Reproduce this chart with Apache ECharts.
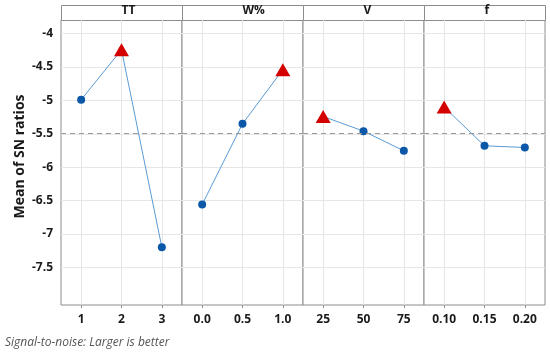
<!DOCTYPE html>
<html>
<head>
<meta charset="utf-8">
<script src="https://cdn.jsdelivr.net/npm/echarts@6/dist/echarts.min.js"></script>
<style>
  html, body { margin: 0; padding: 0; background: #fff; }
  #chart { width: 550px; height: 355px; }
</style>
</head>
<body>
<div id="chart"></div>
<script>
// factors and their levels (tick labels)
const factors = ['TT', 'W%', 'V', 'f']
const levelsTT = ['1', '2', '3']
const levelsW = ['0.0', '0.5', '1.0']
const levelsV = ['25', '50', '75']
const levelsF = ['0.10', '0.15', '0.20']

// mean of SN ratios per level
const snTT = [-4.99, -4.24, -7.20]
const snW = [-6.56, -5.35, -4.54]
const snV = [-5.24, -5.46, -5.755]
const snF = [-5.10, -5.68, -5.705]

const overallMean = -5.49
const yTicks = [-7.5, -7, -6.5, -6, -5.5, -5, -4.5, -4]

const levels = [levelsTT, levelsW, levelsV, levelsF]
const means = [snTT, snW, snV, snF]

const font = '"Open Sans", "Noto Sans", sans-serif'
const gridLeft = 61
const gridTop = 20
const panelW = 121
const panelH = 285
const gridColor = '#e6e6e6'
const borderColor = '#8c8c8c'

const chart = echarts.init(document.getElementById('chart'), null, { renderer: 'canvas' })

const grids = [], xAxes = [], yAxes = [], series = [], headers = []

factors.forEach((name, i) => {
  const left = gridLeft + i * panelW
  grids.push({
    left: left, top: gridTop, width: panelW, height: panelH,
    show: true, borderColor: borderColor, borderWidth: 1, backgroundColor: '#fff'
  })
  const lv = levels[i]
  xAxes.push({
    type: 'value', gridIndex: i, min: 0.5, max: 3.5,
    axisLine: { show: false },
    axisTick: { show: true, length: 3, lineStyle: { color: borderColor }, customValues: [1, 2, 3] },
    axisLabel: {
      customValues: [1, 2, 3],
      formatter: v => lv[v - 1] || '',
      color: '#1a1a1a', fontWeight: 'bold', fontSize: 12, fontFamily: font, margin: 9
    },
    splitLine: { show: true, lineStyle: { color: gridColor, width: 1 } }
  })
  yAxes.push({
    type: 'value', gridIndex: i, min: -8.065, max: -3.795,
    axisLine: { show: false },
    axisTick: { show: false, customValues: yTicks },
    axisLabel: {
      show: i === 0, customValues: yTicks,
      color: '#1a1a1a', fontWeight: 'bold', fontSize: 12, fontFamily: font, margin: 8
    },
    splitLine: { show: true, lineStyle: { color: gridColor, width: 1 } },
    name: i === 0 ? 'Mean of SN ratios' : '',
    nameLocation: 'middle', nameGap: 34,
    nameTextStyle: { color: '#1a1a1a', fontWeight: 'bold', fontSize: 14, fontFamily: font, padding: [0, 0, 0, 12] }
  })
  const vals = means[i]
  const best = vals.indexOf(Math.max(...vals))
  series.push({
    type: 'line', xAxisIndex: i, yAxisIndex: i,
    data: vals.map((v, k) => ({
      value: [k + 1, v],
      symbol: k === best ? 'triangle' : 'circle',
      symbolSize: k === best ? [15, 13] : 8,
      itemStyle: { color: k === best ? '#d40000' : '#0b57a8' }
    })),
    lineStyle: { color: '#5b9bd5', width: 1 },
    z: 3,
    markLine: {
      silent: true, symbol: 'none', label: { show: false },
      lineStyle: { color: '#9a9a9a', type: [5, 4], width: 1 },
      data: [{ yAxis: overallMean }]
    }
  })
  headers.push({
    type: 'rect', left: left, top: 5,
    shape: { width: panelW, height: 15 },
    style: { fill: '#fff', stroke: borderColor, lineWidth: 1 }
  })
  headers.push({
    type: 'text', left: left + panelW / 2, top: 5,
    style: {
      text: name, x: 0, y: 0, textAlign: 'center',
      fill: '#1a1a1a', font: 'bold 12px ' + font
    },
    z: 10
  })
})

chart.setOption({
  animation: false,
  title: {
    text: 'Signal-to-noise: Larger is better',
    left: 0, bottom: 1,
    textStyle: { color: '#555', fontStyle: 'italic', fontWeight: 'normal', fontSize: 12, fontFamily: font }
  },
  grid: grids,
  xAxis: xAxes,
  yAxis: yAxes,
  series: series,
  graphic: headers
})
</script>
</body>
</html>
